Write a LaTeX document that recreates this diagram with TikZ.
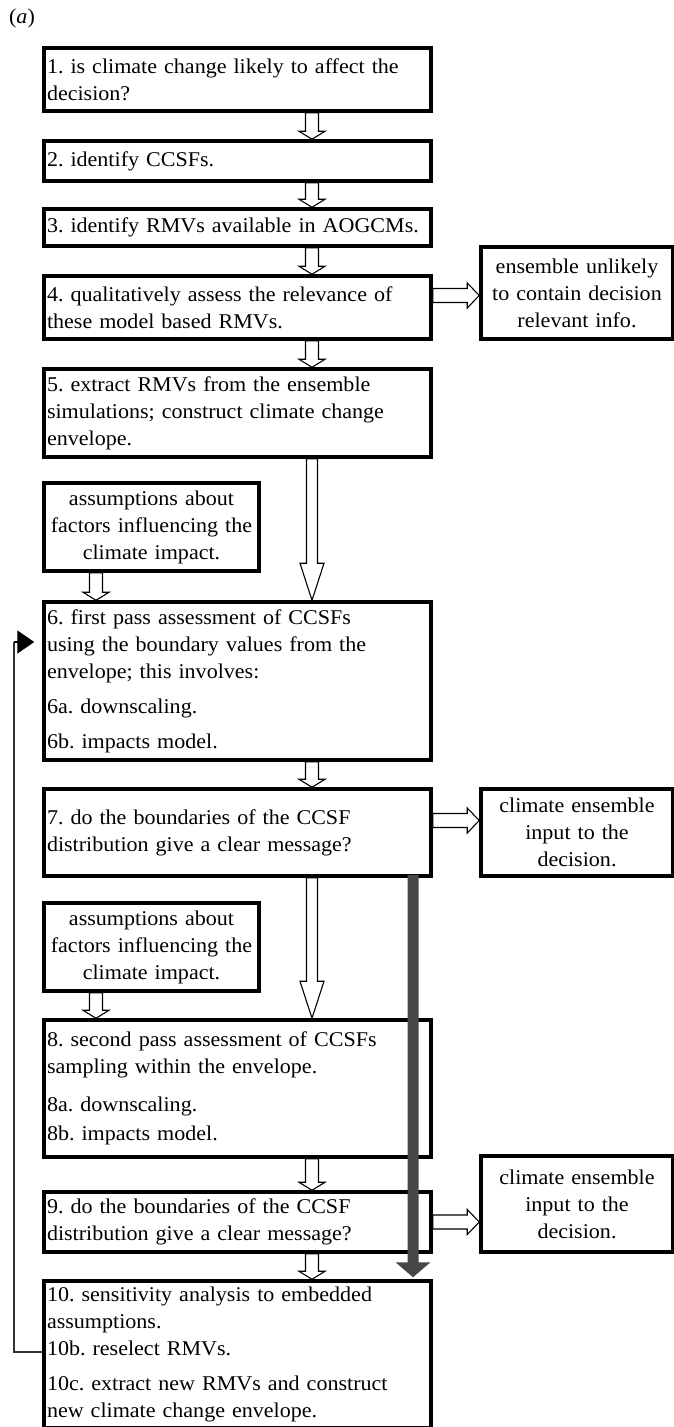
\documentclass[tikz,border=0pt]{standalone}
\usepackage{fontspec}
\setmainfont{Liberation Serif}[FakeStretch=1.05]
\usetikzlibrary{calc,arrows.meta}
\frenchspacing
\begin{document}
\begin{tikzpicture}[x=1pt,y=-1pt,
  every node/.style={font=\fontsize{21pt}{27pt}\selectfont},
  box/.style={draw, line width=3.5pt, inner xsep=3pt, inner ysep=0pt,
    minimum width=387pt, text width=381pt, align=left},
  abox/.style={box, minimum width=215pt, text width=209pt, align=center},
  sbox/.style={box, minimum width=192pt, text width=186pt, align=center},
  barrow/.style n args={3}{to path={
    let \p1=(\tikztostart), \p2=(\tikztotarget),
        \n1={atan2(\y2-\y1,\x2-\x1)}, \n2={veclen(\x2-\x1,\y2-\y1)} in
    ([shift={(\p1)},rotate=\n1]0pt,#1)
    -- ([shift={(\p1)},rotate=\n1]\n2-#3,#1)
    -- ([shift={(\p1)},rotate=\n1]\n2-#3,#2)
    -- (\p2)
    -- ([shift={(\p1)},rotate=\n1]\n2-#3,-#2)
    -- ([shift={(\p1)},rotate=\n1]\n2-#3,-#1)
    -- ([shift={(\p1)},rotate=\n1]0pt,-#1) -- cycle}},
  hollow/.style={draw=black, fill=white, line width=1.1pt, line join=miter},
  small/.style={hollow, barrow={6.5pt}{13pt}{8pt}},
  big/.style={hollow, barrow={5.5pt}{12pt}{37pt}},
  side/.style={hollow, barrow={7pt}{12.5pt}{12pt}},
  grey/.style={fill=black!72, draw=none, barrow={5.5pt}{17.5pt}{15pt}},
  fbline/.style={draw=black!80, line width=1.4pt}
]
\useasboundingbox (0,0) rectangle (673,1427);

\node (lab) at (22,18) {(\textit{a})};

% main column
\node[box, minimum height=63pt] (b1) at (237.5,79.5)
  {1. is climate change likely to affect the\\decision?};
\node[box, minimum height=40pt] (b2) at (237.5,161) {2. identify CCSFs.};
\node[box, minimum height=37pt] (b3) at (237.5,227.5) {3. identify RMVs available in AOGCMs.};
\node[box, minimum height=63pt] (b4) at (237.5,307.5)
  {4. qualitatively assess the relevance of\\these model based RMVs.};
\node[box, minimum height=88pt] (b5) at (237.5,413)
  {5. extract RMVs from the ensemble\\simulations; construct climate change\\envelope.};
\node[abox, minimum height=88pt] (a1) at (151.5,527)
  {assumptions about\\factors influencing the\\climate impact.};
\node[box, minimum height=158pt] (b6) at (237.5,681)
  {6. first pass assessment of CCSFs\\using the boundary values from the\\envelope; this involves:\\[8pt]6a. downscaling.\\[8pt]6b. impacts model.};
\node[box, minimum height=87pt] (b7) at (237.5,832.5)
  {7. do the boundaries of the CCSF\\distribution give a clear message?};
\node[abox, minimum height=88pt] (a2) at (151.5,947)
  {assumptions about\\factors influencing the\\climate impact.};
\node[box, minimum height=137pt] (b8) at (237.5,1088.5)
  {8. second pass assessment of CCSFs\\sampling within the envelope.\\[11pt]8a. downscaling.\\[2pt]8b. impacts model.};
\node[box, minimum height=60pt] (b9) at (237.5,1222)
  {9. do the boundaries of the CCSF\\distribution give a clear message?};
\node[box, minimum height=147pt] (b10) at (237.5,1354.5)
  {10. sensitivity analysis to embedded\\assumptions.\\10b. reselect RMVs.\\[8pt]10c. extract new RMVs and construct\\new climate change envelope.};

% side column
\node[sbox, minimum height=92pt] (s4) at (577,293)
  {ensemble unlikely\\to contain decision\\relevant info.};
\node[sbox, minimum height=87pt] (s7) at (577,832.5)
  {climate ensemble\\input to the\\decision.};
\node[sbox, minimum height=96pt] (s9) at (577,1204)
  {climate ensemble\\input to the\\decision.};

% reference x positions
\coordinate (ax) at (312,0);
\coordinate (aax) at (96,0);
\coordinate (gx) at (413,0);

% block arrows down the main column
\draw[small] (b1.south -| ax) to (b2.north -| ax);
\draw[small] (b2.south -| ax) to (b3.north -| ax);
\draw[small] (b3.south -| ax) to (b4.north -| ax);
\draw[small] (b4.south -| ax) to (b5.north -| ax);
\draw[big] (b5.south -| ax) to (b6.north -| ax);
\draw[small] (a1.south -| aax) to (b6.north -| aax);
\draw[small] (b6.south -| ax) to (b7.north -| ax);
\draw[big] (b7.south -| ax) to (b8.north -| ax);
\draw[small] (a2.south -| aax) to (b8.north -| aax);
\draw[small] (b8.south -| ax) to (b9.north -| ax);
\draw[small] (b9.south -| ax) to (b10.north -| ax);

% side arrows
\coordinate (r4) at ([yshift=12pt]b4.east);
\coordinate (r7) at ([yshift=12pt]b7.east);
\coordinate (r9) at (b9.east);
\draw[side] (r4) to (r4 -| s4.west);
\draw[side] (r7) to (r7 -| s7.west);
\draw[side] (r9) to (r9 -| s9.west);

% grey arrow from 7 to 10
\coordinate (g1) at (b7.south -| gx);
\coordinate (g2) at (b10.north -| gx);
\path[grey] ([yshift=3pt]g1) to ([yshift=2pt]g2);

% feedback loop from 10 to 6
\coordinate (fbB) at (14,1352);
\coordinate (fbT) at (14,642);
\draw[fbline] (b10.west |- fbB) -- (fbB) -- (fbT);
\draw[fbline, draw=black, -{Triangle[length=17pt,width=23pt]}, shorten >=8pt] (fbT) -- (b6.west |- fbT);
\end{tikzpicture}
\end{document}
